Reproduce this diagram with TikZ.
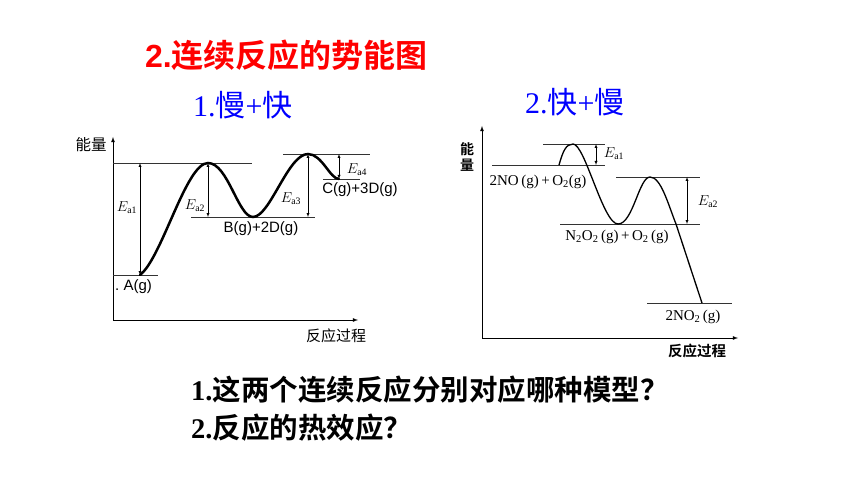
\documentclass[tikz,border=0pt]{standalone}
\usepackage{fontspec}
\setmainfont{Liberation Serif}
\setsansfont{Liberation Sans}
\newfontfamily\cjk[BoldFont={Noto Sans CJK SC Bold}]{Noto Sans CJK SC}
\usetikzlibrary{positioning}

\tikzset{
    level/.style={thin,black!80},
    barrier/.style={black,line width=2.5pt,line cap=round},
    barrierr/.style={black,line width=1.3pt},
    ealabel/.style={font=\fontsize{14}{14}\selectfont},
    lefttext/.style={font=\sffamily\fontsize{15}{15}\selectfont},
    righttext/.style={font=\fontsize{15}{15}\selectfont}
}

\begin{document}
\begin{tikzpicture}[x=1pt,y=-1pt]
        \useasboundingbox (0,0) rectangle (860,484);
        % headings
        \node[anchor=west,text=red,font=\sffamily\bfseries\fontsize{32}{32}\selectfont,inner sep=0pt] (title) at (145,55) {2.{\cjk 连续反应的势能图}};
        \node[anchor=west,text=blue,font=\fontsize{30}{30}\selectfont,inner sep=0pt] (slowfast) at (193,105) {1.{\cjk 慢}+{\cjk 快}};
        \node[anchor=west,text=blue,font=\fontsize{30}{30}\selectfont,inner sep=0pt] (fastslow) at (525,102) {2.{\cjk 快}+{\cjk 慢}};
        % left: slow + fast
        \draw[thick,-latex] (113,320) -- (113,137);
        \draw[thick,-latex] (113,320) -- (358,320);
        \node[font=\cjk\fontsize{15.5}{15.5}\selectfont] (energyl) at (91,145) {能量};
        \node[font=\cjk\fontsize{15}{15}\selectfont] (processl) at (336,336) {反应过程};
        \coordinate (A) at (140,275);
        \coordinate (P1) at (208,163);
        \coordinate (B) at (253,217);
        \coordinate (P2) at (308,154);
        \coordinate (C) at (339,179);
        \draw[level] (113,275) -- (158,275);
        \draw[level] (113,163) -- (252,163);
        \draw[level] (191,217) -- (315,217);
        \draw[level] (283,154) -- (370,154);
        \draw[level] (323,179) -- (360,179);
        \draw[barrier] (A) .. controls (162,258) and (186,163) .. (P1)
            .. controls (228,163) and (238,217) .. (B)
            .. controls (270,217) and (288,154) .. (P2)
            .. controls (322,154) and (330,179) .. (C);
        \draw[thin,latex-latex] (A|-P1) -- (A);
        \draw[thin,latex-latex] (P1) -- (P1|-B);
        \draw[thin,latex-latex] (P2) -- (P2|-B);
        \draw[thin,latex-latex] (C|-P2) -- (C);
        \node[ealabel] (ea1) at (127,208) {$E_{\mathrm{a1}}$};
        \node[ealabel] (ea2) at (195,206) {$E_{\mathrm{a2}}$};
        \node[ealabel] (ea3) at (291,199) {$E_{\mathrm{a3}}$};
        \node[ealabel] (ea4) at (357,170) {$E_{\mathrm{a4}}$};
        \node[lefttext,anchor=west,inner sep=0pt] (Al) at (115,287) {.\ A(g)};
        \node[lefttext] (Bl) at (261,229) {B(g)+2D(g)};
        \node[lefttext] (Cl) at (360,190) {C(g)+3D(g)};
        % right: fast + slow
        \draw[thick,-latex] (482,338) -- (482,126);
        \draw[thick,-latex] (482,338) -- (738,338);
        \node[font=\cjk\bfseries\fontsize{14}{14}\selectfont] (energyr) at (467,149) {能};
        \node[font=\cjk\bfseries\fontsize{14}{14}\selectfont] (energyr2) at (467,165) {量};
        \node[font=\cjk\bfseries\fontsize{14.5}{14.5}\selectfont] (processr) at (697,351) {反应过程};
        \coordinate (R0) at (559,165);
        \coordinate (Q1) at (573,144);
        \coordinate (N) at (618,224);
        \coordinate (Q2) at (650,177);
        \coordinate (R1) at (676,224);
        \coordinate (F) at (702,303);
        \draw[level] (492,165) -- (605,165);
        \draw[level] (543,144) -- (605,144);
        \draw[level] (560,224) -- (700,224);
        \draw[level] (616,177) -- (700,177);
        \draw[level] (647,303) -- (732,303);
        \draw[barrierr] (R0) .. controls (563,151) and (566,144) .. (Q1)
            .. controls (585,144) and (603,224) .. (N)
            .. controls (633,224) and (639,177) .. (Q2)
            .. controls (661,177) and (668,204) .. (R1) -- (F);
        \draw[thin,latex-latex] (596,144) -- (596,165);
        \draw[thin,latex-latex] (687,177) -- (687,224);
        \node[font=\fontsize{14}{14}\selectfont] (eb1) at (614,154) {$E_{\mathrm{a1}}$};
        \node[font=\fontsize{14}{14}\selectfont] (eb2) at (708,202) {$E_{\mathrm{a2}}$};
        \node[righttext] (NOl) at (538,182) {2NO\,(g)\,+\,O\textsubscript{2}(g)};
        \node[righttext] (N2O2l) at (617,237) {N\textsubscript{2}O\textsubscript{2}\,(g)\,+\,O\textsubscript{2}\,(g)};
        \node[righttext] (NO2l) at (693,317) {2NO\textsubscript{2}\,(g)};
        % questions
        \node[anchor=west,font=\bfseries\fontsize{28.5}{28.5}\selectfont,inner sep=0pt] (q1) at (191,390) {1.{\cjk 这两个连续反应分别对应哪种模型？}};
        \node[anchor=west,font=\bfseries\fontsize{28.5}{28.5}\selectfont,inner sep=0pt] (q2) at (191,428) {2.{\cjk 反应的热效应？}};
\end{tikzpicture}
\end{document}
